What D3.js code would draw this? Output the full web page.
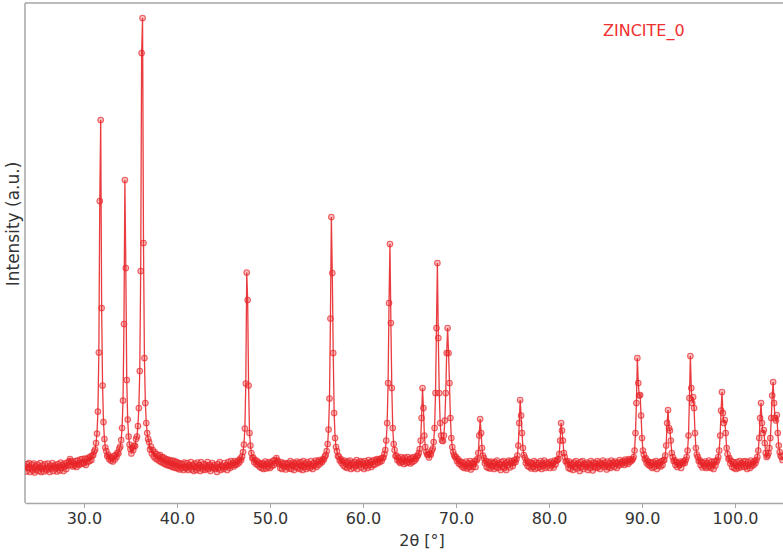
<!DOCTYPE html>
<html>
<head>
<meta charset="utf-8">
<script src="https://cdn.jsdelivr.net/npm/d3@7"></script>
<style>
    body { margin: 0; background: #fff; }
    svg { display: block; }
</style>
</head>
<body>
<div id="chart"></div>
<script>
const twoThetaStart = 23.7;
const twoThetaStep = 0.1;
const intensity = [
    73, 63, 78,                                         // 23.7 - 23.9
    71, 80, 62, 69, 77, 65, 79, 61, 73, 67,             // 24
    77, 64, 71, 80, 62, 69, 75, 63, 78, 68,             // 25
    66, 79, 71, 62, 75, 69, 80, 64, 73, 76,             // 26
    69, 63, 78, 73, 65, 81, 70, 76, 64, 79,             // 27
    74, 68, 81, 75, 83, 88, 84, 76, 73, 81,             // 28
    75, 84, 72, 85, 78, 76, 87, 79, 88, 81,             // 29
    79, 89, 76, 88, 82, 91, 84, 93, 86, 95,             // 30
    96, 103, 107, 120, 139, 183, 301, 604, 766, 390,    // 31
    235, 162, 128, 111, 104, 94, 97, 88, 92, 85,        // 32
    90, 83, 94, 87, 96, 92, 101, 99, 109, 113,          // 33
    126, 150, 205, 358, 646, 470, 246, 167, 133, 117,   // 34
    108, 99, 111, 106, 115, 114, 128, 133, 154, 190,    // 35
    264, 464, 900, 970, 520, 290, 200, 160, 140, 128,   // 36
    122, 107, 113, 99, 106, 93, 102, 89, 98, 87,        // 37
    95, 84, 96, 82, 92, 80, 91, 78, 88, 76,             // 38
    87, 75, 86, 74, 84, 72, 85, 71, 83, 70,             // 39
    82, 69, 80, 67, 79, 70, 78, 66, 81, 71,             // 40
    69, 80, 66, 76, 72, 82, 67, 75, 64, 79,             // 41
    72, 66, 81, 70, 76, 64, 82, 72, 67, 78,             // 42
    66, 75, 70, 82, 68, 76, 64, 72, 80, 70,             // 43
    76, 68, 72, 62, 78, 70, 82, 66, 74, 72,             // 44
    68, 80, 72, 76, 66, 82, 74, 70, 84, 76,             // 45
    80, 73, 84, 76, 82, 78, 85, 81, 89, 86,             // 46
    93, 102, 117, 149, 239, 461, 406, 235, 140, 115,    // 47
    100, 90, 91, 82, 86, 78, 84, 76, 81, 72,            // 48
    78, 70, 80, 68, 77, 83, 69, 79, 72, 82,             // 49
    70, 80, 74, 84, 76, 86, 80, 90, 85, 82,             // 50
    78, 70, 82, 68, 79, 73, 80, 67, 78, 72,             // 51
    80, 69, 84, 68, 76, 81, 66, 79, 72, 83,             // 52
    70, 80, 68, 82, 74, 66, 84, 72, 79, 68,             // 53
    82, 72, 78, 70, 84, 74, 68, 80, 75, 85,             // 54
    72, 83, 76, 86, 79, 84, 82, 88, 87, 93,             // 55
    96, 104, 118, 147, 209, 369, 572, 460, 300, 180,    // 56
    130, 112, 104, 94, 93, 85, 88, 80, 84, 75,          // 57
    85, 72, 81, 70, 83, 74, 85, 68, 80, 76,             // 58
    70, 82, 74, 86, 68, 80, 77, 84, 71, 82,             // 59
    78, 68, 84, 74, 80, 70, 86, 76, 82, 72,             // 60
    84, 76, 86, 77, 83, 88, 80, 87, 82, 89,             // 61
    84, 90, 91, 98, 106, 125, 160, 240, 400, 518,       // 62
    360, 230, 150, 118, 106, 94, 95, 86, 90, 83,        // 63
    80, 92, 82, 89, 78, 91, 84, 80, 92, 82,             // 64
    88, 79, 90, 82, 92, 84, 89, 88, 94, 95,             // 65
    100, 108, 125, 170, 230, 190, 135, 112, 102, 97,    // 66
    97, 91, 99, 97, 105, 109, 122, 150, 220, 350,       // 67
    480, 330, 220, 160, 135, 125, 124, 135, 165, 220,   // 68
    300, 350, 300, 240, 170, 130, 112, 102, 96, 92,     // 69
    92, 84, 88, 79, 84, 76, 82, 72, 80, 70,             // 70
    74, 83, 69, 79, 72, 84, 67, 80, 72, 78,             // 71
    84, 72, 85, 88, 100, 135, 168, 140, 110, 95,        // 72
    90, 80, 84, 72, 83, 70, 81, 69, 83, 74,             // 73
    80, 68, 82, 72, 85, 70, 79, 76, 66, 82,             // 74
    72, 84, 70, 79, 66, 82, 76, 85, 71, 80,             // 75
    84, 74, 80, 86, 82, 88, 95, 115, 160, 206,          // 76
    175, 140, 110, 96, 91, 80, 85, 74, 82, 72,          // 77
    81, 69, 79, 72, 84, 68, 81, 76, 70, 80,             // 78
    72, 84, 68, 79, 75, 85, 70, 81, 73, 79,             // 79
    81, 70, 83, 75, 79, 71, 85, 77, 84, 86,             // 80
    88, 98, 125, 160, 145, 125, 100, 92, 83, 84,        // 81
    78, 70, 83, 68, 79, 76, 66, 81, 72, 84,             // 82
    69, 79, 76, 64, 82, 72, 84, 68, 79, 76,             // 83
    72, 81, 66, 79, 70, 84, 76, 65, 81, 72,             // 84
    79, 70, 84, 72, 81, 68, 79, 76, 85, 72,             // 85
    81, 75, 67, 83, 72, 79, 70, 85, 75, 81,             // 86
    72, 83, 79, 70, 81, 75, 86, 77, 82, 79,             // 87
    84, 76, 87, 80, 85, 78, 88, 82, 86, 85,             // 88
    88, 92, 105, 140, 200, 290, 240, 215, 216, 175,     // 89
    130, 105, 97, 88, 90, 80, 84, 76, 82, 74,           // 90
    80, 70, 82, 72, 78, 84, 68, 80, 75, 82,             // 91
    73, 84, 76, 85, 86, 95, 115, 160, 186, 150,         // 92
    145, 125, 100, 92, 84, 86, 76, 82, 72, 80,          // 93
    76, 83, 70, 81, 79, 84, 80, 86, 92, 105,            // 94
    135, 210, 294, 230, 200, 212, 190, 140, 110, 97,    // 95
    92, 84, 86, 76, 82, 71, 80, 74, 83, 70,             // 96
    80, 72, 85, 74, 70, 82, 77, 68, 84, 75,             // 97
    82, 86, 92, 105, 135, 185, 222, 180, 160, 166,      // 98
    140, 110, 98, 88, 90, 79, 84, 72, 82, 70,           // 99
    79, 68, 82, 74, 70, 84, 72, 80, 76, 83,             // 100
    72, 84, 74, 68, 82, 77, 70, 85, 74, 81,             // 101
    76, 84, 80, 86, 92, 105, 130, 170, 200, 160,        // 102
    140, 146, 120, 100, 92, 95, 100, 110, 130, 170,     // 103
    215, 242, 200, 170, 165, 176, 140, 115, 102, 95,    // 104
    92, 86                                              // 105.0 - 105.1
];
const xTicks = [30, 40, 50, 60, 70, 80, 90, 100];
const seriesName = "ZINCITE_0";
const xTitle = "2θ [°]";
const yTitle = "Intensity (a.u.)";

const width = 783;
const height = 553;
const margin = {top: 3, right: 0, bottom: 50, left: 25};
const red = "#e8262a";
const font = "'DejaVu Sans', Verdana, sans-serif";

const data = intensity.map((v, i) => ({
    x: +(twoThetaStart + i * twoThetaStep).toFixed(2),
    y: v
}));

const x = d3.scaleLinear()
    .domain([23.66, 105.16])
    .range([margin.left, width - margin.right]);

const y = d3.scaleLinear()
    .domain([0, 1000])
    .range([height - margin.bottom, margin.top]);

const svg = d3.select("#chart").append("svg")
    .attr("width", width)
    .attr("height", height)
    .attr("viewBox", [0, 0, width, height]);

svg.append("defs").append("clipPath")
    .attr("id", "plot-clip")
    .append("rect")
    .attr("x", margin.left)
    .attr("y", margin.top)
    .attr("width", width - margin.left - margin.right)
    .attr("height", height - margin.top - margin.bottom);

// frame: top, left and bottom only (right side runs off the picture)
svg.append("line")
    .attr("x1", margin.left).attr("x2", width)
    .attr("y1", margin.top).attr("y2", margin.top)
    .attr("stroke", "#a6a6a6").attr("stroke-width", 1.5);
svg.append("line")
    .attr("x1", margin.left).attr("x2", margin.left)
    .attr("y1", margin.top).attr("y2", height - margin.bottom)
    .attr("stroke", "#a6a6a6").attr("stroke-width", 1.5);

const xAxis = g => g
    .attr("transform", `translate(0,${height - margin.bottom})`)
    .call(d3.axisBottom(x)
        .tickValues(xTicks)
        .tickFormat(d3.format(".1f"))
        .tickSize(5)
        .tickPadding(5)
        .tickSizeOuter(0))
    .call(g => g.select(".domain").attr("stroke", "#a6a6a6").attr("stroke-width", 1.5))
    .call(g => g.selectAll(".tick line").attr("stroke", "#a6a6a6"))
    .call(g => g.selectAll(".tick text")
        .attr("fill", "#333")
        .style("font-family", font)
        .style("font-size", "16px"));

svg.append("g").call(xAxis);

const plot = svg.append("g").attr("clip-path", "url(#plot-clip)");

const line = d3.line()
    .x(d => x(d.x))
    .y(d => y(d.y));

plot.append("path")
    .datum(data)
    .attr("fill", "none")
    .attr("stroke", red)
    .attr("stroke-opacity", 0.9)
    .attr("stroke-width", 1.3)
    .attr("d", line);

plot.append("g")
    .selectAll("circle")
    .data(data)
    .join("circle")
    .attr("cx", d => x(d.x))
    .attr("cy", d => y(d.y))
    .attr("r", 2.8)
    .attr("fill", red)
    .attr("fill-opacity", 0.3)
    .attr("stroke", red)
    .attr("stroke-opacity", 0.7)
    .attr("stroke-width", 1.1);

svg.append("text")
    .attr("x", (margin.left + width) / 2 + 18)
    .attr("y", 546)
    .attr("text-anchor", "middle")
    .attr("fill", "#333")
    .style("font-family", font)
    .style("font-size", "16px")
    .text(xTitle);

svg.append("text")
    .attr("transform", `translate(19,${(margin.top + height - margin.bottom) / 2 - 29}) rotate(-90)`)
    .attr("text-anchor", "middle")
    .attr("fill", "#333")
    .style("font-family", font)
    .style("font-size", "17px")
    .text(yTitle);

svg.append("text")
    .attr("x", 603)
    .attr("y", 36)
    .attr("fill", "#f03030")
    .style("font-family", font)
    .style("font-size", "16px")
    .text(seriesName);
</script>
</body>
</html>
